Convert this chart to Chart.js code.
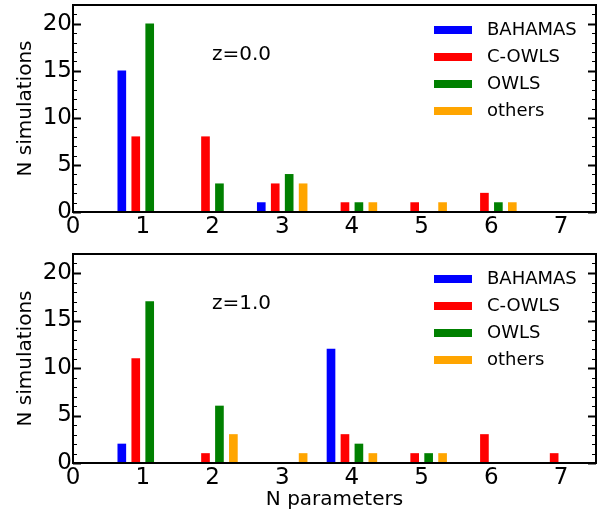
<!DOCTYPE html>
<html>
<head>
<meta charset="utf-8">
<script src="https://cdn.jsdelivr.net/npm/chart.js"></script>
<style>
  html, body { margin: 0; padding: 0; background: #fff; }
  #wrap { position: relative; width: 616px; height: 515px; }
  canvas { position: absolute; left: 0; }
</style>
</head>
<body>
<div id="wrap">
  <canvas id="panelTop" width="616" height="245" style="top:0"></canvas>
  <canvas id="panelBottom" width="616" height="270" style="top:245px"></canvas>
</div>
<script>
// N parameters (x categories)
const nParams = [1, 2, 3, 4, 5, 6, 7];
const seriesNames = ["BAHAMAS", "C-OWLS", "OWLS", "others"];
const seriesColors = ["#0000ff", "#ff0000", "#008000", "#ffa500"];

// z = 0.0
const bahamasZ0 = [15, 0, 1, 0, 0, 0, 0];
const cowlsZ0   = [8, 8, 3, 1, 1, 2, 0];
const owlsZ0    = [20, 3, 4, 1, 0, 1, 0];
const othersZ0  = [0, 0, 3, 1, 1, 1, 0];

// z = 1.0
const bahamasZ1 = [2, 0, 0, 12, 0, 0, 0];
const cowlsZ1   = [11, 1, 0, 3, 1, 3, 1];
const owlsZ1    = [17, 6, 0, 2, 1, 0, 0];
const othersZ1  = [0, 3, 1, 1, 1, 0, 0];

const xTicks = [0, 1, 2, 3, 4, 5, 6, 7];
const yTicks = [0, 5, 10, 15, 20];

const FONT = "'DejaVu Sans', sans-serif";
const offsets = [-0.3, -0.1, 0.1, 0.3];

// frame, inward y ticks, legend and redshift label
const framePlugin = {
  id: "frame",
  afterDraw(chart, args, opts) {
    const { ctx, chartArea: a } = chart;
    const y = chart.scales.y;
    ctx.save();
    ctx.strokeStyle = "#000";
    for (let v = 0; v <= 22; v++) {
      const py = Math.round(y.getPixelForValue(v)) + 0.5;
      const major = v % 5 === 0;
      const len = major ? 8 : 4;
      ctx.lineWidth = major ? 2 : 1.2;
      ctx.beginPath();
      ctx.moveTo(a.left, py); ctx.lineTo(a.left + len, py);
      ctx.moveTo(a.right, py); ctx.lineTo(a.right - len, py);
      ctx.stroke();
    }
    ctx.lineWidth = 2;
    ctx.strokeRect(a.left, a.top, a.right - a.left, a.bottom - a.top);

    // legend
    ctx.font = "18px " + FONT;
    ctx.textBaseline = "middle";
    ctx.textAlign = "left";
    chart.data.datasets.forEach((ds, i) => {
      const ly = a.top + 25 + i * 27;
      ctx.fillStyle = ds.backgroundColor;
      ctx.fillRect(a.right - 162, ly - 4, 38, 8);
      ctx.fillStyle = "#000";
      ctx.fillText(ds.label, a.right - 109, ly);
    });

    ctx.font = "20px " + FONT;
    ctx.fillText(opts.label, a.left + 139, a.top + 50);
    ctx.restore();
  }
};

function makePanel(id, label, series, padTop, xHeight, showTitle) {
  const datasets = series.map((vals, i) => ({
    label: seriesNames[i],
    backgroundColor: seriesColors[i],
    barThickness: 8,
    grouped: false,
    data: nParams
      .map((n, j) => ({ x: n + offsets[i], y: vals[j] }))
      .filter(p => p.y > 0)
  }));

  new Chart(document.getElementById(id), {
    type: "bar",
    data: { datasets },
    plugins: [framePlugin],
    options: {
      responsive: false,
      animation: false,
      layout: { padding: { left: 0, right: 20, top: padTop, bottom: 0 } },
      plugins: {
        legend: { display: false },
        tooltip: { enabled: false },
        frame: { label }
      },
      scales: {
        x: {
          type: "linear",
          offset: false,
          min: 0,
          max: 7.5,
          afterBuildTicks: s => { s.ticks = xTicks.map(v => ({ value: v })); },
          afterFit: s => {
            s.height = xHeight;
            s.paddingLeft = 0; s.paddingRight = 0;
          },
          grid: { display: false, drawTicks: false, offset: false },
          border: { display: false },
          ticks: { color: "#000", font: { family: FONT, size: 23 }, padding: 1, maxRotation: 0 },
          title: {
            display: showTitle,
            text: "N parameters",
            color: "#000",
            font: { family: FONT, size: 20 },
            padding: { top: 0, bottom: 3 }
          }
        },
        y: {
          min: 0,
          max: 22,
          afterBuildTicks: s => { s.ticks = yTicks.map(v => ({ value: v })); },
          afterFit: s => {
            s.width = 73;
            s.paddingTop = 0; s.paddingBottom = 0;
          },
          grid: { display: false, drawTicks: false },
          border: { display: false },
          ticks: { color: "#000", font: { family: FONT, size: 23 }, padding: 1 },
          title: {
            display: true,
            text: "N simulations",
            color: "#000",
            font: { family: FONT, size: 20 },
            padding: { top: 14, bottom: 0 }
          }
        }
      }
    }
  });
}

makePanel("panelTop", "z=0.0", [bahamasZ0, cowlsZ0, owlsZ0, othersZ0], 5, 33, false);
makePanel("panelBottom", "z=1.0", [bahamasZ1, cowlsZ1, owlsZ1, othersZ1], 9, 52, true);
</script>
</body>
</html>
